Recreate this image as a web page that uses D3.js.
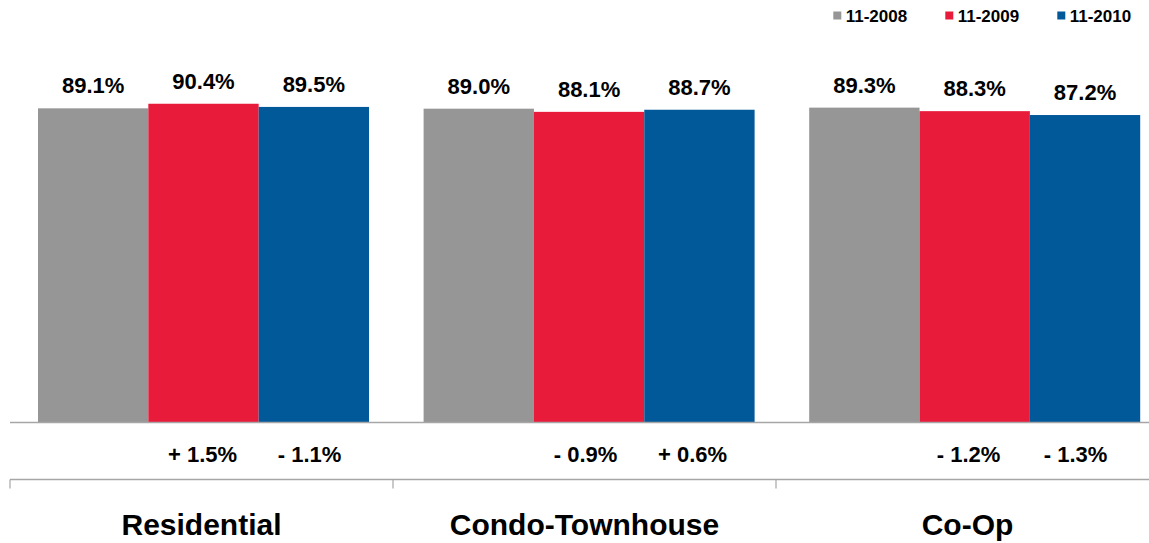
<!DOCTYPE html>
<html>
<head>
<meta charset="utf-8">
<script src="https://cdn.jsdelivr.net/npm/d3@7"></script>
<style>
  html, body { margin: 0; padding: 0; background: #fff; }
  svg { display: block; font-family: "Liberation Sans", Arial, sans-serif; font-weight: bold; }
</style>
</head>
<body>
<svg id="chart" width="1149" height="543"></svg>
<script>
// Average sale-to-list price ratio by property type, November of each year
const categories = ["Residential", "Condo-Townhouse", "Co-Op"];
const seriesNames = ["11-2008", "11-2009", "11-2010"];
const seriesColors = ["#969696", "#e91b3a", "#02599a"];
const values2008 = [89.1, 89.0, 89.3];
const values2009 = [90.4, 88.1, 88.3];
const values2010 = [89.5, 88.7, 87.2];
// Year-over-year change (percentage points) shown under the 2009 and 2010 bars
const change2009 = ["+ 1.5%", "- 0.9%", "- 1.2%"];
const change2010 = ["- 1.1%", "+ 0.6%", "- 1.3%"];

const seriesValues = [values2008, values2009, values2010];
const rows = [];
categories.forEach((c, ci) => {
  seriesNames.forEach((s, si) => {
    rows.push({ category: c, series: s, si, value: seriesValues[si][ci] });
  });
});

const svg = d3.select("#chart");
const W = 1149;
const baseY = 422.5;

// Value axis: 0–100 %
const y = d3.scaleLinear().domain([0, 100]).range([baseY, 69.9]);

// Bar groups
const xGroup = d3.scaleBand()
  .domain(categories)
  .range([38, 1140.2])
  .paddingInner(0.1416)
  .paddingOuter(0);
const xSeries = d3.scaleBand()
  .domain(seriesNames)
  .range([0, xGroup.bandwidth()]);

// Category axis bands (table under the plot)
const xAxisBand = d3.scaleBand()
  .domain(categories)
  .range([10, 1159]);
const xChange = d3.scalePoint()
  .domain(seriesNames)
  .range([-107, 107]);

const color = d3.scaleOrdinal().domain(seriesNames).range(seriesColors);

// Bars
svg.append("g").selectAll("rect")
  .data(rows)
  .join("rect")
  .attr("x", d => xGroup(d.category) + xSeries(d.series))
  .attr("y", d => y(d.value))
  .attr("width", xSeries.bandwidth())
  .attr("height", d => y(0) - y(d.value))
  .attr("fill", d => color(d.series));

// Value labels
svg.append("g").selectAll("text")
  .data(rows)
  .join("text")
  .attr("x", d => xGroup(d.category) + xSeries(d.series) + xSeries.bandwidth() / 2)
  .attr("y", d => y(d.value) - 15)
  .attr("text-anchor", "middle")
  .attr("font-size", 22)
  .attr("fill", "#000")
  .text(d => d.value.toFixed(1) + "%");

// Baseline
svg.append("line")
  .attr("x1", 10).attr("x2", W)
  .attr("y1", baseY).attr("y2", baseY)
  .attr("stroke", "#a6a6a6").attr("stroke-width", 1.5);

// Change row
const changeRows = [];
categories.forEach((c, ci) => {
  changeRows.push({ category: c, series: seriesNames[1], text: change2009[ci] });
  changeRows.push({ category: c, series: seriesNames[2], text: change2010[ci] });
});
svg.append("g").selectAll("text")
  .data(changeRows)
  .join("text")
  .attr("x", d => xAxisBand(d.category) + xAxisBand.bandwidth() / 2 + xChange(d.series) + 1)
  .attr("y", 461.7)
  .attr("text-anchor", "middle")
  .attr("font-size", 22)
  .attr("fill", "#000")
  .text(d => d.text);

// Category axis with band separators
const axisY = 479.5;
const axisG = svg.append("g").attr("transform", `translate(0,${axisY})`);
axisG.append("line")
  .attr("x1", 10).attr("x2", W)
  .attr("y1", 0).attr("y2", 0)
  .attr("stroke", "#a6a6a6").attr("stroke-width", 1.5);
axisG.selectAll("line.tick")
  .data(categories)
  .join("line")
  .attr("class", "tick")
  .attr("x1", d => xAxisBand(d)).attr("x2", d => xAxisBand(d))
  .attr("y1", 0).attr("y2", 9)
  .attr("stroke", "#a6a6a6").attr("stroke-width", 1.2);
axisG.selectAll("text")
  .data(categories)
  .join("text")
  .attr("x", d => xAxisBand(d) + xAxisBand.bandwidth() / 2)
  .attr("y", 535 - axisY)
  .attr("text-anchor", "middle")
  .attr("font-size", 30)
  .attr("fill", "#000")
  .text(d => d);

// Legend
const legendX = d3.scalePoint().domain(seriesNames).range([833.3, 1057.3]);
const legend = svg.append("g").selectAll("g")
  .data(seriesNames)
  .join("g")
  .attr("transform", d => `translate(${legendX(d)},0)`);
legend.append("rect")
  .attr("x", 0).attr("y", 11.5)
  .attr("width", 8).attr("height", 8)
  .attr("fill", d => color(d));
legend.append("text")
  .attr("x", 12.4).attr("y", 21.7)
  .attr("font-size", 17)
  .attr("fill", "#000")
  .text(d => d);
</script>
</body>
</html>
